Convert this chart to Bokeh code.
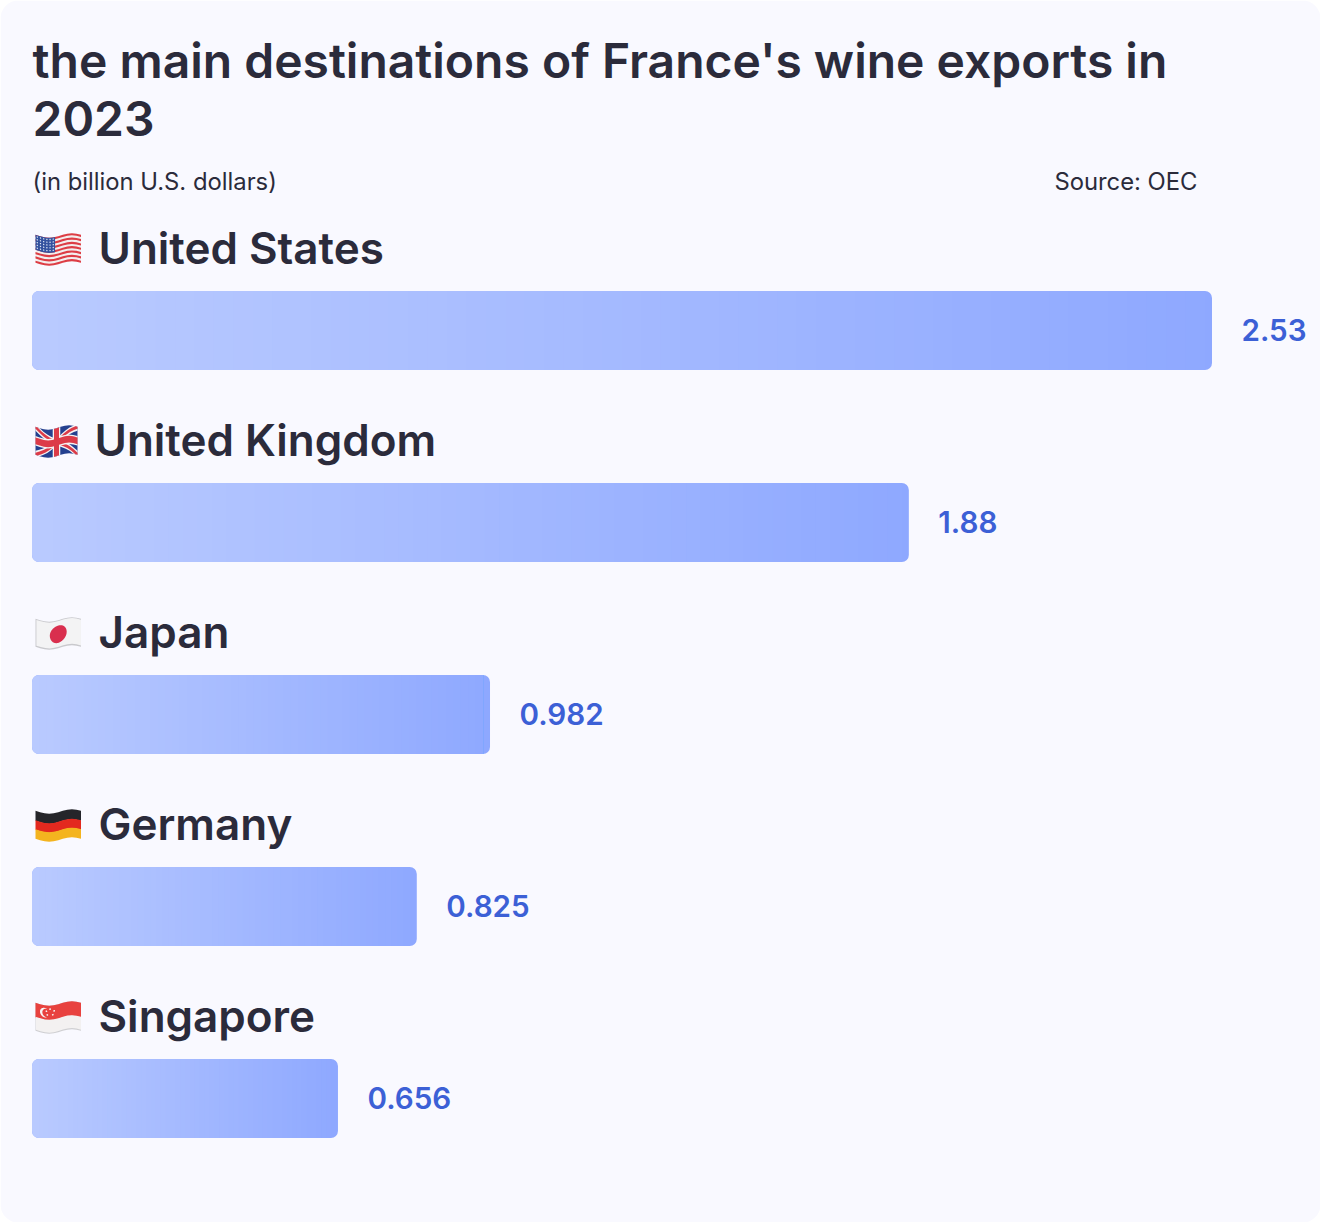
import numpy as np
from bokeh.plotting import figure
from bokeh.models import Range1d
from bokeh.core.properties import value
from bokeh.embed import file_html
from bokeh.resources import INLINE

title_lines = ["the main destinations of France's wine exports in", "2023"]
subtitle = "(in billion U.S. dollars)"
source = "Source: OEC"
countries = ["United States", "United Kingdom", "Japan", "Germany", "Singapore"]
values = [2.53, 1.88, 0.982, 0.825, 0.656]
value_labels = ["2.53", "1.88", "0.982", "0.825", "0.656"]

W, H = 1320, 1222
BAR_X0, BAR_X1 = 31.5, 1211.5
px_per_unit = (BAR_X1 - BAR_X0) / values[0]
ROW = 192
TEXT = "#2b2b3b"
BLUE = "#3c60d6"
GRAD_A = np.array([185, 202, 255])
GRAD_B = np.array([142, 168, 255])
RADIUS = 7

p = figure(width=W, height=H, toolbar_location=None, output_backend="svg",
           x_range=Range1d(-BAR_X0 / px_per_unit, (W - BAR_X0) / px_per_unit),
           y_range=Range1d(H, 0), min_border=0, outline_line_color=None,
           background_fill_color="#ffffff", border_fill_color="#ffffff")
p.extra_x_ranges["px"] = Range1d(0, W)
p.axis.visible = False
p.grid.visible = False
p.styles = {"position": "absolute", "left": "0", "top": "0"}

p.quad(left=[0], right=[W], top=[0], bottom=[H], x_range_name="px",
       fill_color="#f9f9ff", line_color=None, border_radius=18)


def hexc(c):
    return "#%02x%02x%02x" % tuple(int(round(v)) for v in c)


# gradient bars: a rounded base, a rounded left cap, then square slices
# overpainted from left to right between the two caps
N = 60
cap = RADIUS / px_per_unit
for i, v in enumerate(values):
    yc = 330 + ROW * i
    p.hbar(y=[yc], left=[0], right=[v], height=79, fill_color=hexc(GRAD_B),
           line_color=None, border_radius=RADIUS)
    p.hbar(y=[yc], left=[0], right=[v - cap], height=79, fill_color=hexc(GRAD_A),
           line_color=None, border_radius=(RADIUS, 0, 0, RADIUS))
    lefts = cap + (v - 2 * cap) * np.arange(N) / N
    p.hbar(y=[yc] * N, left=list(lefts), right=[v - cap] * N, height=79,
           fill_color=[hexc(GRAD_A + (GRAD_B - GRAD_A) * (l / v)) for l in lefts],
           line_color=None)


# wavy emoji-like flags
def warp(poly, row, fw=45.5, top=235.0, fh=28.0, sub=10):
    pts = []
    n = len(poly)
    for k in range(n):
        a, b = np.array(poly[k], float), np.array(poly[(k + 1) % n], float)
        for s in np.arange(sub) / sub:
            pts.append(a + (b - a) * s)
    pts = np.array(pts)
    u, v = pts[:, 0], pts[:, 1]
    off = 2.3 * np.sin(2 * np.pi * (u - 0.05))
    return list(35 + u * fw), list(top + ROW * row + v * fh + off)


def rect(u0, v0, u1, v1):
    return [(u0, v0), (u1, v0), (u1, v1), (u0, v1)]


def circle(cu, cv, r, aspect, n=28):
    a = np.linspace(0, 2 * np.pi, n, endpoint=False)
    return [(cu + r * np.cos(t) * aspect, cv + r * np.sin(t)) for t in a]


def draw(row, shapes, fw=45.5):
    xs, ys, cs = [], [], []
    for poly, col in shapes:
        x, y = warp(poly, row, fw=fw)
        xs.append(x)
        ys.append(y)
        cs.append(col)
    p.patches(xs, ys, fill_color=cs, line_color=None, x_range_name="px")


# United States
shapes = [(rect(0, 0, 1, 1), "#f3eeee")]
for s in range(0, 13, 2):
    shapes.append((rect(0, s / 13, 1, (s + 1) / 13), "#dd3d45"))
shapes.append((rect(0, 0, 0.43, 7 / 13), "#34529f"))
for r in range(5):
    for c in range(6):
        shapes.append((circle(0.04 + c * 0.07, 0.06 + r * 0.1, 0.028, 0.6, n=6), "#dfe5f5"))
draw(0, shapes)

# United Kingdom
shapes = [
    (rect(0, 0, 1, 1), "#24408f"),
    ([(0, 0), (0.1, 0), (1, 0.86), (1, 1), (0.9, 1), (0, 0.14)], "#f4f2f2"),
    ([(1, 0), (0.9, 0), (0, 0.86), (0, 1), (0.1, 1), (1, 0.14)], "#f4f2f2"),
    ([(0, 0), (0.05, 0), (1, 0.93), (1, 1), (0.95, 1), (0, 0.07)], "#dc3b48"),
    ([(1, 0), (0.95, 0), (0, 0.93), (0, 1), (0.05, 1), (1, 0.07)], "#dc3b48"),
    (rect(0.41, 0, 0.59, 1), "#f4f2f2"),
    (rect(0, 0.33, 1, 0.67), "#f4f2f2"),
    (rect(0.44, 0, 0.56, 1), "#dc3b48"),
    (rect(0, 0.38, 1, 0.62), "#dc3b48"),
]
draw(1, shapes, fw=42.0)

# Japan
draw(2, [(rect(0, 0, 1, 1), "#c9c9cd"), (rect(0.02, 0.03, 1, 0.95), "#f3f3f4"),
         (circle(0.5, 0.5, 0.31, 0.6), "#d92f4e")])

# Germany
draw(3, [(rect(0, 0, 1, 0.36), "#25252a"), (rect(0, 0.34, 1, 0.68), "#e3291f"),
         (rect(0, 0.66, 1, 1), "#f4b41f")])

# Singapore
shapes = [(rect(0, 0, 1, 1), "#cfcfd2"), (rect(0, 0, 1, 0.52), "#e8423f"),
          (rect(0.01, 0.5, 1, 0.96), "#f3f1f1"),
          (circle(0.2, 0.26, 0.17, 0.6), "#f7f4f4"), (circle(0.24, 0.26, 0.15, 0.6), "#e8423f")]
for cu, cv in [(0.32, 0.12), (0.41, 0.2), (0.38, 0.33), (0.26, 0.33), (0.24, 0.2)]:
    shapes.append((circle(cu, cv, 0.035, 0.6, n=6), "#f7f4f4"))
draw(4, shapes)


BL = 0.38  # baseline correction, fraction of the font size


def txt(x, y, s, size, color, font, align="left"):
    p.text(x=x, y=[v - BL * size for v in y], text=s, x_range_name="px", text_font=value(font),
           text_font_size=f"{size}px", text_color=color,
           text_align=align, text_baseline="alphabetic")


txt([32, 32], [78, 136], title_lines, 48, TEXT, "Inter SemiBold")
txt([32], [190], [subtitle], 23.8, TEXT, "Inter")
txt([1197], [190], [source], 23.8, TEXT, "Inter", align="right")
txt([98, 94, 98, 98, 98], [264 + ROW * i for i in range(5)], countries, 44, TEXT, "Inter SemiBold")
p.text(x=[v + 29.5 / px_per_unit for v in values], y=[341 - BL * 29.6 + ROW * i for i in range(5)],
       text=value_labels, text_font=value("Inter SemiBold"), text_font_size="29.6px",
       text_color=BLUE, text_align="left", text_baseline="alphabetic")

open("out.html", "w").write(file_html(p, INLINE))
